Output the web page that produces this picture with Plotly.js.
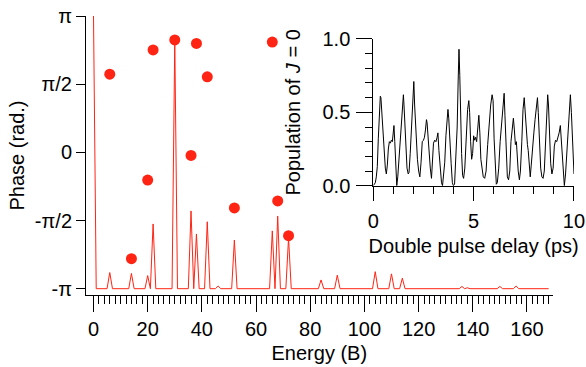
<!DOCTYPE html>
<html>
<head>
<meta charset="utf-8">
<script src="https://cdn.plot.ly/plotly-3.0.1.min.js"></script>
<style>html,body{margin:0;padding:0;background:#fff;}#chart{width:586px;height:367px;}</style>
</head>
<body>
<div id="chart"></div>
<script>
var PI = Math.PI;
// Phase of each component (rad.) vs energy (units of B)
var phaseEnergy = [6, 14, 20, 22, 30, 36, 38, 42, 52, 66, 68, 72];
var phaseValue = [1.80, -2.45, -0.64, 2.36, 2.59, -0.07, 2.51, 1.74, -1.28, 2.54, -1.12, -1.92];

// Spectrum peaks (drawn on the phase axis scale), baseline at -pi
var peakEnergy = [0, 6, 14, 20, 22, 30, 36, 38, 42, 46, 52, 66, 68, 72, 84, 90, 104, 110, 114, 136, 138, 150, 156];
var peakLevel = [3.1416, -2.77, -2.79, -2.84, -1.65, 2.60, -1.35, -1.88, -1.60, -3.08, -2.02, -1.81, -1.47, -1.97, -2.94, -2.83, -2.75, -2.80, -2.90, -3.09, -3.12, -3.09, -3.08];
var spectrumBase = -3.1416;
var spectrumEnd = 168;

// Inset: population of J = 0 vs double pulse delay (ps)
var delay = [0.00,0.05,0.10,0.15,0.20,0.25,0.30,0.35,0.38,0.42,0.46,0.50,0.55,0.60,0.65,0.70,0.75,0.80,0.85,0.90,0.95,1.00,1.03,1.07,1.10,1.13,1.17,1.22,1.28,1.35,1.42,1.47,1.50,1.53,1.58,1.63,1.68,1.74,1.78,1.84,1.90,1.95,1.99,2.02,2.06,2.10,2.15,2.20,2.26,2.32,2.38,2.44,2.50,2.55,2.60,2.65,2.68,2.72,2.78,2.84,2.90,2.95,3.00,3.06,3.12,3.18,3.22,3.27,3.33,3.40,3.45,3.50,3.56,3.62,3.68,3.72,3.76,3.82,3.88,3.94,3.99,4.05,4.12,4.18,4.23,4.27,4.31,4.35,4.40,4.45,4.50,4.56,4.62,4.70,4.76,4.80,4.85,4.90,4.95,5.00,5.05,5.10,5.15,5.20,5.26,5.31,5.36,5.42,5.48,5.55,5.62,5.70,5.78,5.85,5.92,5.97,6.02,6.08,6.13,6.18,6.25,6.32,6.40,6.47,6.52,6.56,6.62,6.68,6.74,6.80,6.86,6.92,6.98,7.03,7.08,7.13,7.18,7.22,7.28,7.33,7.40,7.46,7.52,7.57,7.62,7.68,7.72,7.77,7.82,7.87,7.94,8.00,8.06,8.12,8.18,8.22,8.28,8.34,8.40,8.46,8.52,8.58,8.64,8.69,8.73,8.78,8.84,8.90,8.96,9.02,9.08,9.14,9.20,9.26,9.32,9.37,9.42,9.48,9.52,9.58,9.64,9.70,9.76,9.82,9.87,9.92,9.97,10.00];
var population = [0.00,0.01,0.02,0.06,0.13,0.32,0.55,0.61,0.60,0.50,0.42,0.30,0.26,0.12,0.08,0.14,0.25,0.30,0.29,0.31,0.30,0.38,0.41,0.30,0.18,0.02,0.00,0.06,0.18,0.33,0.50,0.60,0.62,0.55,0.40,0.22,0.12,0.08,0.09,0.22,0.40,0.58,0.70,0.71,0.55,0.44,0.26,0.18,0.10,0.06,0.16,0.30,0.31,0.33,0.38,0.45,0.43,0.34,0.26,0.12,0.05,0.15,0.29,0.31,0.30,0.33,0.36,0.24,0.10,0.02,0.00,0.06,0.16,0.34,0.48,0.52,0.46,0.34,0.15,0.02,0.00,0.01,0.18,0.40,0.72,0.93,0.75,0.45,0.22,0.07,0.05,0.12,0.34,0.52,0.58,0.50,0.30,0.18,0.22,0.34,0.31,0.33,0.30,0.40,0.48,0.36,0.18,0.12,0.06,0.05,0.10,0.28,0.45,0.55,0.62,0.58,0.32,0.10,0.01,0.02,0.12,0.30,0.45,0.60,0.63,0.48,0.22,0.06,0.04,0.10,0.30,0.40,0.46,0.38,0.28,0.30,0.18,0.10,0.04,0.10,0.30,0.52,0.60,0.48,0.35,0.28,0.24,0.12,0.06,0.14,0.30,0.36,0.45,0.52,0.60,0.50,0.28,0.12,0.06,0.05,0.10,0.28,0.50,0.62,0.55,0.35,0.15,0.08,0.12,0.27,0.31,0.30,0.33,0.36,0.41,0.30,0.15,0.03,0.00,0.08,0.22,0.38,0.52,0.62,0.50,0.32,0.15,0.08];

var phaseTickVals = [-PI, -PI/2, 0, PI/2, PI];
var phaseTickText = ['-π', '-π/2', '0', 'π/2', 'π'];

// build spectrum polyline from the peak table
var specX = [], specY = [];
for (var i = 0; i < peakEnergy.length; i++) {
  var e = peakEnergy[i];
  if (e > 0 && (specX.length === 0 || specX[specX.length-1] < e-1)) { specX.push(e-1); specY.push(spectrumBase); }
  specX.push(e); specY.push(peakLevel[i]);
  specX.push(e+1); specY.push(spectrumBase);
}
specX.push(spectrumEnd); specY.push(spectrumBase);

var minorE = [];
for (var m = 2; m <= 168; m += 2) { if (m % 20 !== 0) minorE.push(m); }

var RED = '#ff2414';
var FONT = 'Liberation Sans, Arial, Helvetica, sans-serif';

var traces = [
  {x: specX, y: specY, type: 'scatter', mode: 'lines', line: {color: RED, width: 1}, xaxis: 'x', yaxis: 'y', hoverinfo: 'skip'},
  {x: phaseEnergy, y: phaseValue, type: 'scatter', mode: 'markers', marker: {color: RED, size: 11}, xaxis: 'x', yaxis: 'y'},
  {x: delay, y: population, type: 'scatter', mode: 'lines', line: {color: '#000', width: 1}, xaxis: 'x2', yaxis: 'y2'}
];

var axisCommon = {showline: true, linecolor: '#000', linewidth: 1, ticks: 'outside', tickcolor: '#000', tickwidth: 1, showgrid: false, zeroline: false, tickfont: {family: FONT, size: 20, color: '#000'}};

var layout = {
  width: 586, height: 367,
  margin: {l: 86, r: 10, t: 16, b: 72},
  paper_bgcolor: '#fff', plot_bgcolor: 'rgba(0,0,0,0)',
  showlegend: false,
  font: {family: FONT, size: 20, color: '#000'},
  xaxis: Object.assign({}, axisCommon, {
    domain: [0, 0.9524], range: [-2.77, 169.5], tick0: 0, dtick: 20, ticklen: 16,
    minor: {tickmode: 'array', tickvals: minorE, ticks: 'outside', ticklen: 8, tickcolor: '#000'},
    anchor: 'y',
    title: {text: 'Energy (B)', font: {family: FONT, size: 20}, standoff: 6}
  }),
  yaxis: Object.assign({}, axisCommon, {
    domain: [0, 1], range: [-3.287, 3.1416], tickmode: 'array', tickvals: phaseTickVals, ticktext: phaseTickText, ticklen: 9,
    anchor: 'x',
    title: {text: 'Phase (rad.)', font: {family: FONT, size: 20}, standoff: 4}
  }),
  xaxis2: Object.assign({}, axisCommon, {
    domain: [0.5863, 0.9959], range: [0, 10], tick0: 0, dtick: 5, ticklen: 14, ticklabelstandoff: 3,
    minor: {dtick: 1, ticks: 'outside', ticklen: 7, tickcolor: '#000'},
    anchor: 'y2',
    title: {text: 'Double pulse delay (ps)', font: {family: FONT, size: 20}, standoff: 8}
  }),
  yaxis2: Object.assign({}, axisCommon, {
    domain: [0.3918, 0.9176], range: [0, 1], tick0: 0, dtick: 0.5, tickformat: '.1f', ticklen: 16, ticklabelstandoff: 2,
    minor: {dtick: 0.1, ticks: 'outside', ticklen: 7, tickcolor: '#000'},
    anchor: 'x2',
    title: {text: 'Population of <i>J</i> = 0', font: {family: FONT, size: 20}, standoff: 16}
  })
};

Plotly.newPlot('chart', traces, layout, {displayModeBar: false, staticPlot: true});
</script>
</body>
</html>
